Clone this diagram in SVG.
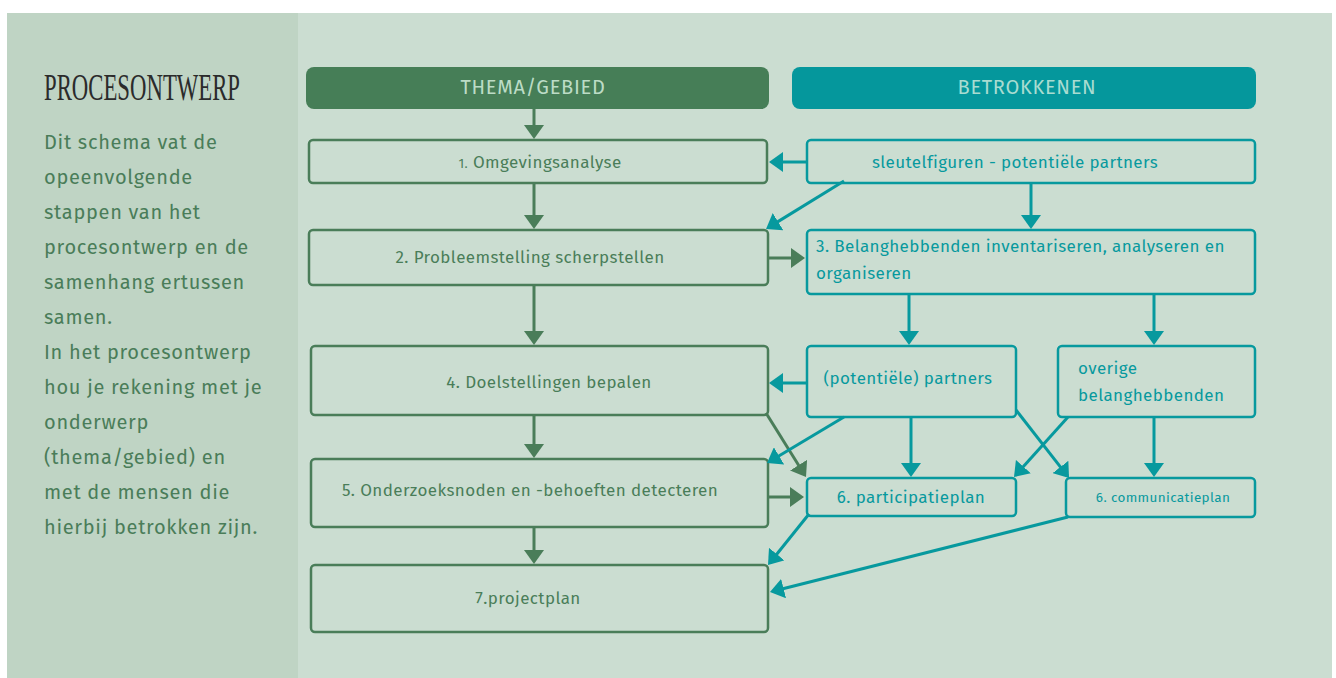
<svg xmlns="http://www.w3.org/2000/svg" width="1336" height="678" viewBox="0 0 1336 678">
  <style>
    .sans { font-family: "Fira Sans", "Noto Sans", "Open Sans", sans-serif; }
    .gbox { fill: none; stroke: #4a7d59; stroke-width: 2.5; }
    .tbox { fill: none; stroke: #07999e; stroke-width: 2.5; }
    .gtxt { fill: #4a7d59; font-size: 17px; letter-spacing: 0.4px; }
    .ttxt { fill: #07999e; font-size: 17px; letter-spacing: 0.4px; }
    .small { font-size: 13.5px; letter-spacing: 0.35px; }
    .body { fill: #4a7d59; font-size: 20px; letter-spacing: 0.7px; }
    .hdr { font-size: 20px; letter-spacing: 0.7px; }
    .gline { stroke: #4a7d59; stroke-width: 3; fill: none; marker-end: url(#ga); }
    .tline { stroke: #07999e; stroke-width: 3; fill: none; marker-end: url(#ta); }
  </style>
  <defs>
    <marker id="ga" markerUnits="userSpaceOnUse" markerWidth="14" markerHeight="20" refX="11" refY="10" orient="auto">
      <path d="M0,0 L14,10 L0,20 z" fill="#4a7d59"/>
    </marker>
    <marker id="ta" markerUnits="userSpaceOnUse" markerWidth="14" markerHeight="20" refX="11" refY="10" orient="auto">
      <path d="M0,0 L14,10 L0,20 z" fill="#07999e"/>
    </marker>
  </defs>

  <!-- background panels -->
  <rect x="0" y="0" width="1336" height="678" fill="#ffffff"/>
  <rect x="7" y="13" width="1325" height="665" fill="#cbddd1"/>
  <rect x="7" y="13" width="291" height="665" fill="#bfd4c4"/>

  <!-- sidebar -->
  <g id="sidebar">
    <text x="44" y="100" font-family="'Liberation Serif', serif" font-size="38" fill="#2b2b2b" textLength="196" lengthAdjust="spacingAndGlyphs">PROCESONTWERP</text>
    <text class="sans body" x="44">
      <tspan x="44" y="149">Dit schema vat de</tspan>
      <tspan x="44" y="184">opeenvolgende</tspan>
      <tspan x="44" y="219">stappen van het</tspan>
      <tspan x="44" y="254">procesontwerp en de</tspan>
      <tspan x="44" y="289">samenhang ertussen</tspan>
      <tspan x="44" y="324">samen.</tspan>
      <tspan x="44" y="359">In het procesontwerp</tspan>
      <tspan x="44" y="394">hou je rekening met je</tspan>
      <tspan x="44" y="429">onderwerp</tspan>
      <tspan x="44" y="464">(thema/gebied) en</tspan>
      <tspan x="44" y="499">met de mensen die</tspan>
      <tspan x="44" y="534">hierbij betrokken zijn.</tspan>
    </text>
  </g>

  <!-- column headers -->
  <g id="hdr-thema">
    <rect x="306" y="67" width="463" height="42" rx="8" fill="#467e57"/>
    <text class="sans hdr" x="533" y="94" text-anchor="middle" fill="#bcdcc6">THEMA/GEBIED</text>
  </g>
  <g id="hdr-betrokkenen">
    <rect x="792" y="67" width="464" height="42" rx="8" fill="#05979c"/>
    <text class="sans hdr" x="1027" y="94" text-anchor="middle" fill="#a9dcd1">BETROKKENEN</text>
  </g>

  <!-- process steps -->
  <g id="step1">
    <rect class="gbox" x="309" y="140" width="458" height="43" rx="4"/>
    <text class="sans gtxt" x="540" y="168" text-anchor="middle"><tspan font-size="13">1.</tspan> Omgevingsanalyse</text>
  </g>
  <g id="step2">
    <rect class="gbox" x="309" y="230" width="459" height="55" rx="4"/>
    <text class="sans gtxt" x="530" y="263" text-anchor="middle">2. Probleemstelling scherpstellen</text>
  </g>
  <g id="step4">
    <rect class="gbox" x="311" y="346" width="457" height="69" rx="4"/>
    <text class="sans gtxt" x="549" y="388" text-anchor="middle">4. Doelstellingen bepalen</text>
  </g>
  <g id="step5">
    <rect class="gbox" x="311" y="459" width="457" height="68" rx="4"/>
    <text class="sans gtxt" x="530" y="496" text-anchor="middle">5. Onderzoeksnoden en -behoeften detecteren</text>
  </g>
  <g id="step7">
    <rect class="gbox" x="311" y="565" width="457" height="67" rx="4"/>
    <text class="sans gtxt" x="528" y="604" text-anchor="middle">7.projectplan</text>
  </g>

  <!-- stakeholders -->
  <g id="sleutelfiguren">
    <rect class="tbox" x="807" y="140" width="448" height="43" rx="4"/>
    <text class="sans ttxt" x="1015" y="168" text-anchor="middle">sleutelfiguren - potentiële partners</text>
  </g>
  <g id="step3">
    <rect class="tbox" x="807" y="230" width="448" height="64" rx="4"/>
    <text class="sans ttxt">
      <tspan x="816" y="252">3. Belanghebbenden inventariseren, analyseren en</tspan>
      <tspan x="816" y="279">organiseren</tspan>
    </text>
  </g>
  <g id="partners">
    <rect class="tbox" x="807" y="346" width="209" height="71" rx="4"/>
    <text class="sans ttxt" x="908" y="384" text-anchor="middle">(potentiële) partners</text>
  </g>
  <g id="overige">
    <rect class="tbox" x="1058" y="346" width="197" height="71" rx="4"/>
    <text class="sans ttxt">
      <tspan x="1078" y="374">overige</tspan>
      <tspan x="1078" y="401">belanghebbenden</tspan>
    </text>
  </g>
  <g id="participatieplan">
    <rect class="tbox" x="807" y="478" width="209" height="38" rx="4"/>
    <text class="sans ttxt" x="911" y="503" text-anchor="middle">6. participatieplan</text>
  </g>
  <g id="communicatieplan">
    <rect class="tbox" x="1066" y="478" width="189" height="39" rx="4"/>
    <text class="sans ttxt small" x="1163" y="502" text-anchor="middle">6. communicatieplan</text>
  </g>

  <!-- connectors -->
  <g id="connectors">
    <!-- main process flow -->
    <line class="gline" x1="534" y1="109" x2="534" y2="136"/>
    <line class="gline" x1="534" y1="183" x2="534" y2="226"/>
    <line class="gline" x1="534" y1="285" x2="534" y2="342"/>
    <line class="gline" x1="534" y1="415" x2="534" y2="455"/>
    <line class="gline" x1="534" y1="527" x2="534" y2="561"/>
    <line class="gline" x1="768" y1="258" x2="802" y2="258"/>
    <line class="gline" x1="768" y1="497" x2="801" y2="497"/>
    <line class="gline" x1="766" y1="413" x2="804.4" y2="474.5"/>
    <!-- stakeholder links -->
    <line class="tline" x1="807" y1="162" x2="772" y2="162"/>
    <line class="tline" x1="844" y1="181" x2="768.6" y2="227.4"/>
    <line class="tline" x1="1031" y1="183" x2="1031" y2="226"/>
    <line class="tline" x1="909" y1="294" x2="909" y2="342"/>
    <line class="tline" x1="1154" y1="294" x2="1154" y2="342"/>
    <line class="tline" x1="807" y1="383" x2="772" y2="383"/>
    <line class="tline" x1="844" y1="417" x2="769.6" y2="461.5"/>
    <line class="tline" x1="911" y1="417" x2="911" y2="474"/>
    <line class="tline" x1="1016" y1="410" x2="1067.2" y2="475.6"/>
    <line class="tline" x1="1068" y1="417" x2="1016" y2="474.8"/>
    <line class="tline" x1="1154" y1="417" x2="1154" y2="474"/>
    <line class="tline" x1="809" y1="514" x2="769.9" y2="562.7"/>
    <line class="tline" x1="1068" y1="517" x2="772.9" y2="591.3"/>
  </g>
</svg>
